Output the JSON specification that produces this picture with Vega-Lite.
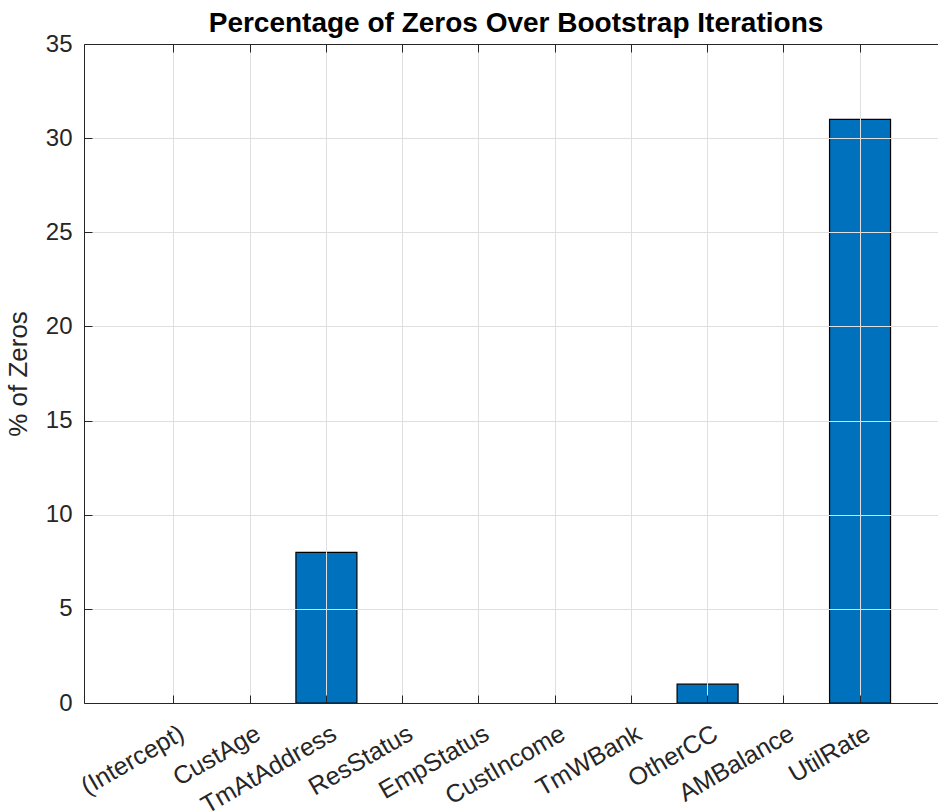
{
  "$schema": "https://vega.github.io/schema/vega-lite/v6.json",
  "width": 854,
  "height": 659,
  "autosize": {"type": "none"},
  "padding": {"left": 84, "top": 44, "right": 0, "bottom": 108},
  "background": "white",
  "title": {
    "text": "Percentage of Zeros Over Bootstrap Iterations",
    "font": "Liberation Sans",
    "fontSize": 28,
    "fontWeight": "bold",
    "color": "#000000",
    "anchor": "middle",
    "dx": 5,
    "offset": -6
  },
  "config": {"view": {"stroke": null}, "font": "Liberation Sans"},
  "data": {
    "values": [
      {"predictor": "(Intercept)", "pct": 0},
      {"predictor": "CustAge", "pct": 0},
      {"predictor": "TmAtAddress", "pct": 8},
      {"predictor": "ResStatus", "pct": 0},
      {"predictor": "EmpStatus", "pct": 0},
      {"predictor": "CustIncome", "pct": 0},
      {"predictor": "TmWBank", "pct": 0},
      {"predictor": "OtherCC", "pct": 1},
      {"predictor": "AMBalance", "pct": 0},
      {"predictor": "UtilRate", "pct": 31}
    ]
  },
  "layer": [
    {
      "mark": {"type": "bar", "color": "#0072BD", "stroke": "#000000", "strokeWidth": 1.2},
      "encoding": {
        "x": {
          "field": "predictor",
          "type": "nominal",
          "sort": null,
          "scale": {"range": [0, 866], "paddingInner": 0.2, "paddingOuter": 0.78},
          "axis": {
            "orient": "bottom",
            "title": null,
            "zindex": 1,
            "domain": true,
            "domainColor": "#262626",
            "domainWidth": 1,
            "ticks": true,
            "tickSize": -8,
            "tickColor": "#262626",
            "tickWidth": 1,
            "grid": true,
            "gridColor": "#dfdfdf",
            "gridWidth": 1,
            "labelAngle": -30,
            "labelAlign": "right",
            "labelBaseline": "middle",
            "labelFont": "Liberation Sans",
            "labelFontSize": 25,
            "labelColor": "#262626",
            "labelPadding": 36,
            "labelOffset": 8
          }
        },
        "y": {
          "field": "pct",
          "type": "quantitative",
          "scale": {"domain": [0, 35], "nice": false},
          "axis": {
            "title": "% of Zeros",
            "titleFont": "Liberation Sans",
            "titleFontSize": 26,
            "titleFontWeight": "normal",
            "titleColor": "#262626",
            "titlePadding": 14,
            "values": [0, 5, 10, 15, 20, 25, 30, 35],
            "zindex": 1,
            "domain": true,
            "domainColor": "#262626",
            "domainWidth": 1,
            "ticks": true,
            "tickSize": -8,
            "tickColor": "#262626",
            "grid": true,
            "gridColor": "#dfdfdf",
            "labelFont": "Liberation Sans",
            "labelFontSize": 24,
            "labelColor": "#262626",
            "labelPadding": 20
          }
        },
        "strokeOpacity": {
          "condition": {"test": "datum.pct > 0", "value": 1},
          "value": 0
        }
      }
    },
    {
      "mark": {"type": "point", "opacity": 0},
      "encoding": {
        "x": {
          "field": "predictor",
          "type": "nominal",
          "sort": null,
          "axis": {
            "orient": "top",
            "title": null,
            "zindex": 1,
            "labels": false,
            "grid": false,
            "domain": true,
            "domainColor": "#262626",
            "domainWidth": 1,
            "ticks": true,
            "tickSize": -8,
            "tickColor": "#262626"
          }
        }
      }
    }
  ],
  "resolve": {"axis": {"x": "independent"}}
}
